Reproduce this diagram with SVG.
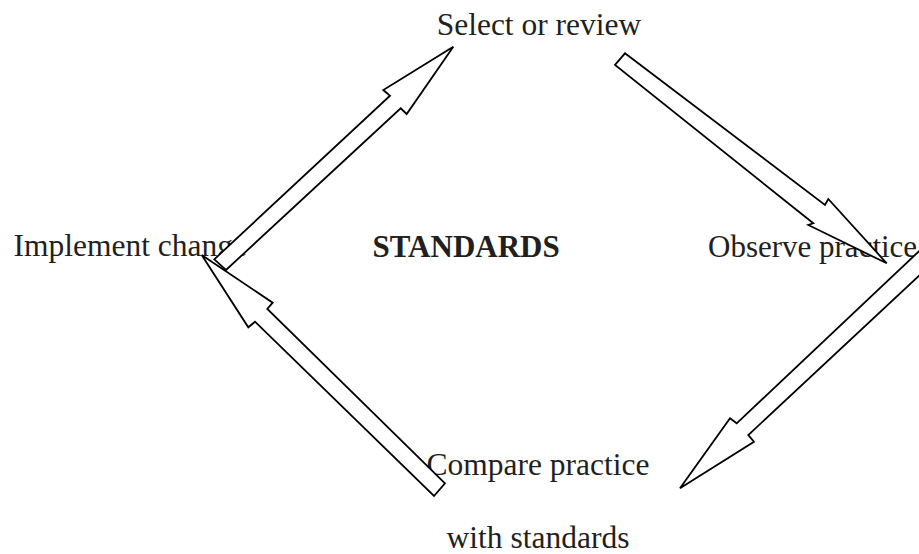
<svg xmlns="http://www.w3.org/2000/svg" width="919" height="554" viewBox="0 0 919 554">
  <style>
    .label { font-family: "Liberation Serif", "Times New Roman", serif; font-size: 31.5px; fill: #231f20; }
    .title { font-weight: bold; font-size: 31px; }
    .tight { font-size: 31px; }
    .arrow { fill: #ffffff; stroke: #000000; stroke-width: 1.8; stroke-linejoin: miter; }
  </style>
  <rect width="919" height="554" fill="#ffffff"/>

  <!-- cycle stages -->
  <g id="select">
    <text class="label" x="539" y="35" text-anchor="middle">Select or review</text>
  </g>
  <g id="observe">
    <text class="label tight" x="708" y="256.5">Observe practice</text>
  </g>
  <g id="compare">
    <text class="label" x="538" y="475" text-anchor="middle">Compare practice</text>
    <text class="label" x="538" y="548" text-anchor="middle">with standards</text>
  </g>
  <g id="implement">
    <text class="label" x="13.5" y="256">Implement change</text>
  </g>
  <g id="standards">
    <text class="label title" x="372.5" y="256.5">STANDARDS</text>
  </g>

  <!-- block arrows joining the stages -->
  <g id="connectors">
    <polygon class="arrow" points="214.3,259.3 390,95.7 383.3,90 453.3,46.7 406.7,114 400.7,108.3 226,270"/>
    <polygon class="arrow" points="625,53.3 825,205 828.3,199 886.7,263.3 808.3,225 813.3,223.3 615,65"/>
    <polygon class="arrow" points="940,231.4 736.7,423.3 730,418.3 680,488.3 754,441.7 748.3,435 952,245"/>
    <polygon class="arrow" points="445,483.3 267.3,309 272.7,302.7 201.7,255 248.3,327.3 255,321.7 434,496"/>
  </g>
</svg>
